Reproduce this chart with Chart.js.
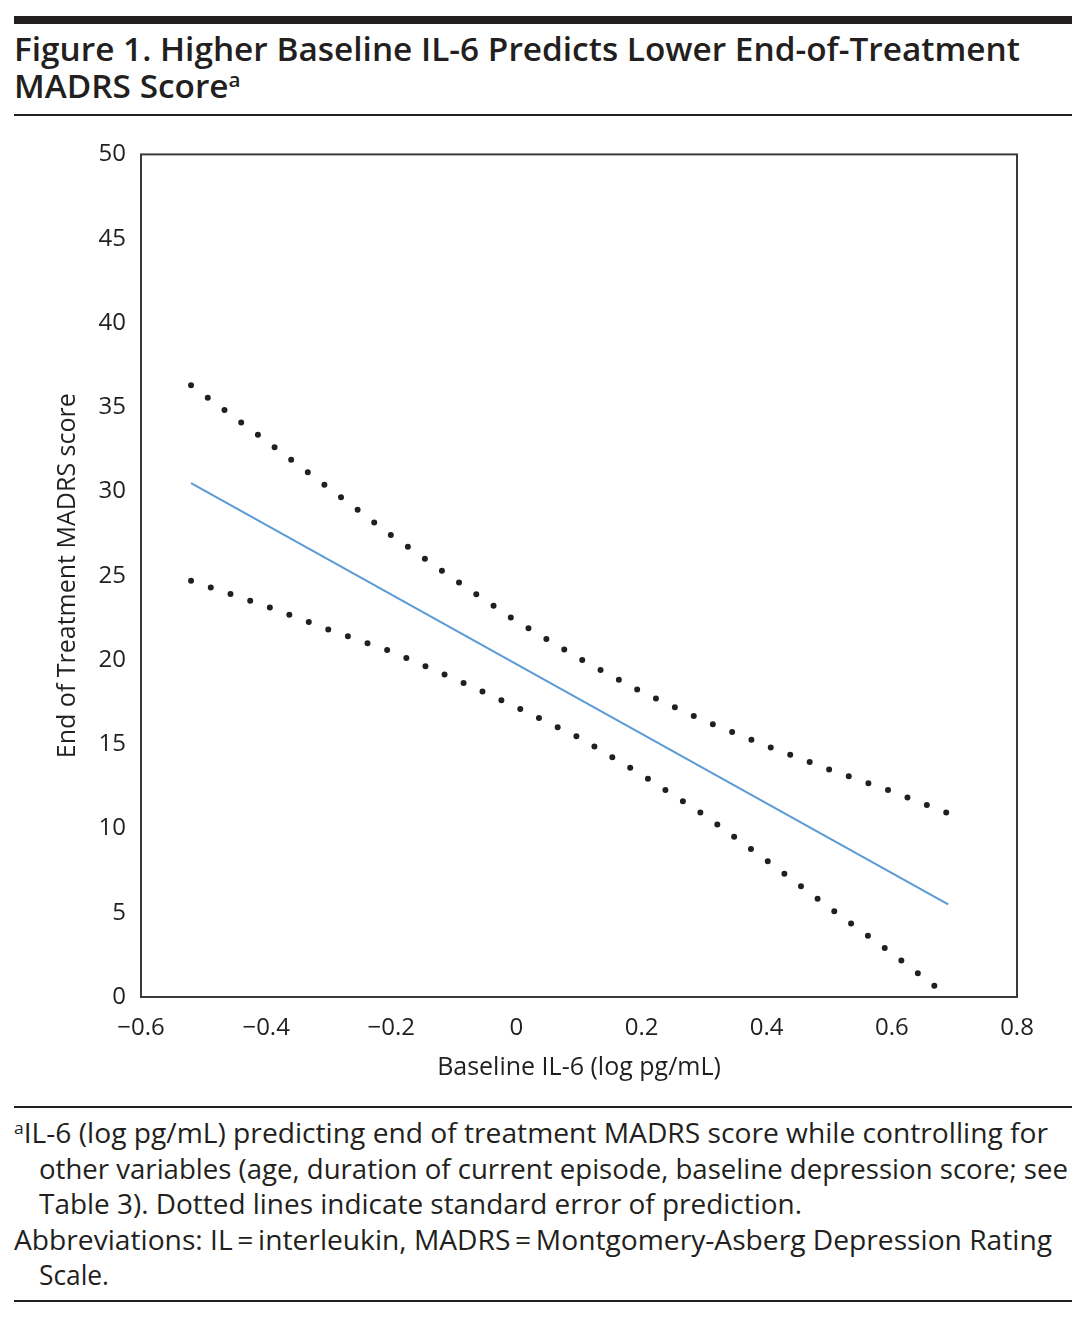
<!DOCTYPE html>
<html>
<head>
<meta charset="utf-8">
<script src="https://cdn.jsdelivr.net/npm/chart.js@4.4.1/dist/chart.umd.min.js"></script>
<style>
  html, body { margin: 0; padding: 0; background: #fff; }
  #page { position: relative; width: 1085px; height: 1318px; overflow: hidden; font-family: "Open Sans", sans-serif; color: #231f20; }
  .rule { position: absolute; left: 14px; width: 1058px; background: #231f20; }
  .ttl { position: absolute; left: 14px; font-weight: 600; font-size: 32px; line-height: 32px; white-space: nowrap; transform-origin: 0 0; }
  .note { position: absolute; font-size: 26.5px; line-height: 26.5px; white-space: nowrap; transform-origin: 0 0; }
  sup { font-size: 0.62em; vertical-align: 0; position: relative; top: -0.55em; }
  #chartBox { position: absolute; left: 0; top: 125px; width: 1085px; height: 965px; }
</style>
</head>
<body>
<div id="page">
  <div class="rule" style="top:16px;height:8px"></div>
  <div class="ttl" id="t1" data-w="1006" style="top:33px">Figure 1. Higher Baseline IL-6 Predicts Lower End-of-Treatment</div>
  <div class="ttl" id="t2" style="top:70px">MADRS Score<sup>a</sup></div>
  <div class="rule" style="top:114px;height:2px"></div>

  <div id="chartBox"><canvas id="chart" width="1085" height="965"></canvas></div>

  <div class="rule" style="top:1106px;height:2px"></div>
  <div class="note" data-w="1034" style="left:14px;top:1120px"><sup>a</sup>IL-6 (log pg/mL) predicting end of treatment MADRS score while controlling for</div>
  <div class="note" data-w="1029" style="left:39px;top:1155.5px">other variables (age, duration of current episode, baseline depression score; see</div>
  <div class="note" data-w="763" style="left:39px;top:1191px">Table 3). Dotted lines indicate standard error of prediction.</div>
  <div class="note" data-w="1038" style="left:14px;top:1226.5px">Abbreviations: IL&#8201;=&#8201;interleukin, MADRS&#8201;=&#8201;Montgomery-Asberg Depression Rating</div>
  <div class="note" data-w="70" style="left:39px;top:1262px">Scale.</div>
  <div class="rule" style="top:1300px;height:2px"></div>
</div>
<script>
// fitted regression line
const fitX = [-0.52, 0.69];
const fitY = [30.5, 5.5];

// upper standard error band (dotted)
const upperX = [-0.52, -0.4, -0.3, -0.2, -0.1, 0, 0.1, 0.2, 0.3, 0.4, 0.5, 0.6, 0.69];
const upperY = [36.3, 33.0, 30.2, 27.4, 24.8, 22.3, 20.1, 18.1, 16.4, 14.9, 13.5, 12.2, 10.9];

// lower standard error band (dotted)
const lowerX = [-0.52, -0.4, -0.3, -0.2, -0.1, 0, 0.1, 0.2, 0.3, 0.4, 0.5, 0.6, 0.67];
const lowerY = [24.7, 23.2, 21.8, 20.5, 18.9, 17.2, 15.4, 13.2, 10.8, 8.1, 5.3, 2.6, 0.6];

const xTicks = [-0.6, -0.4, -0.2, 0, 0.2, 0.4, 0.6, 0.8];
const yTicks = [0, 5, 10, 15, 20, 25, 30, 35, 40, 45, 50];

function pts(xs, ys) {
    return xs.map((x, i) => ({ x: x, y: ys[i] }));
}

// stretch title / footnote lines to the reference widths
function fitText() {
    const t1 = document.getElementById("t1");
    const s = t1.dataset.w / t1.getBoundingClientRect().width;
    document.querySelectorAll(".ttl").forEach(el => el.style.transform = "scaleX(" + s + ")");
    document.querySelectorAll(".note").forEach(el => {
        const k = el.dataset.w / el.getBoundingClientRect().width;
        el.style.transform = "scaleX(" + k + ")";
    });
}
fitText();

const boxPlugin = {
    id: "box",
    beforeDatasetsDraw(chart) {
        const a = chart.chartArea, ctx = chart.ctx;
        ctx.save();
        ctx.strokeStyle = "#3a3a3a";
        ctx.lineWidth = 2;
        ctx.strokeRect(a.left, a.top, a.right - a.left, a.bottom - a.top);
        ctx.restore();
    }
};

Chart.defaults.font.family = "'Open Sans', sans-serif";
Chart.defaults.color = "#231f20";

function dotted(label, data, gap) {
    return {
        label: label,
        data: data,
        borderColor: "#231f20",
        borderWidth: 6,
        borderDash: [0, gap],
        borderCapStyle: "round",
        pointRadius: 0,
        showLine: true,
        fill: false
    };
}

new Chart(document.getElementById("chart").getContext("2d"), {
    type: "scatter",
    data: {
        datasets: [
            dotted("Upper", pts(upperX, upperY), 20.8),
            dotted("Lower", pts(lowerX, lowerY), 20.8),
            {
                label: "Prediction",
                data: pts(fitX, fitY),
                borderColor: "#5b9bd5",
                borderWidth: 2,
                pointRadius: 0,
                showLine: true,
                fill: false
            }
        ]
    },
    options: {
        responsive: false,
        animation: false,
        layout: { padding: { top: 18, right: 68, left: 0, bottom: 0 } },
        plugins: { legend: { display: false }, tooltip: { enabled: false } },
        scales: {
            x: {
                type: "linear",
                min: xTicks[0],
                max: xTicks[xTicks.length - 1],
                afterBuildTicks: s => { s.ticks = xTicks.map(v => ({ value: v })); },
                afterFit: s => { s.height = 93; },
                grid: { display: false, drawTicks: false },
                border: { display: false },
                ticks: {
                    padding: 17,
                    font: { size: 24 },
                    callback: v => String(Math.round(v * 10) / 10).replace("-", "\u2212")
                },
                title: {
                    display: true,
                    text: "Baseline IL-6 (log pg/mL)",
                    font: { size: 25 },
                    padding: { top: 0, bottom: 7 }
                }
            },
            y: {
                type: "linear",
                min: yTicks[0],
                max: yTicks[yTicks.length - 1],
                afterBuildTicks: s => { s.ticks = yTicks.map(v => ({ value: v })); },
                afterFit: s => { s.width = 141; },
                grid: { display: false, drawTicks: false },
                border: { display: false },
                ticks: { padding: 15, font: { size: 24 } },
                title: {
                    display: true,
                    text: "End of Treatment MADRS score",
                    font: { size: 25 },
                    padding: { top: 53, bottom: 0 }
                }
            }
        }
    },
    plugins: [boxPlugin]
});
</script>
</body>
</html>
